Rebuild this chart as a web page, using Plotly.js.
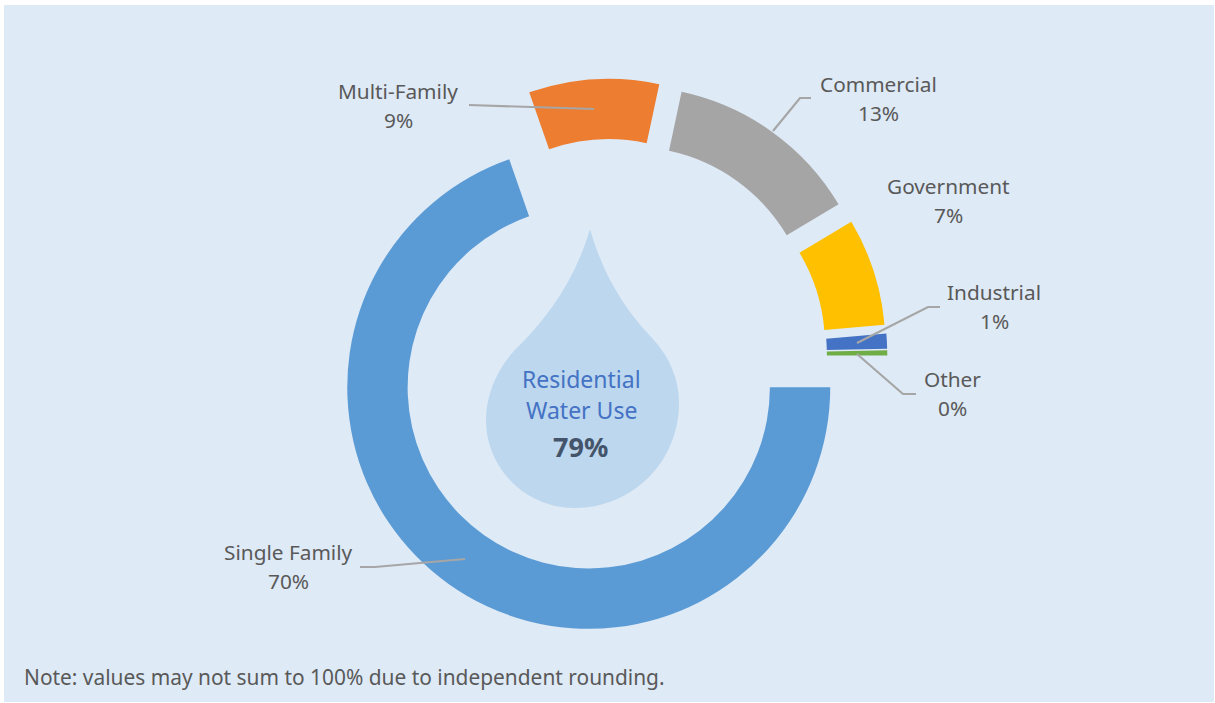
<!DOCTYPE html>
<html>
<head>
<meta charset="utf-8">
<script src="https://cdn.plot.ly/plotly-3.0.1.min.js"></script>
<style>html,body{margin:0;padding:0;background:#fff}#chart{width:1215px;height:703px}</style>
</head>
<body>
<div id="chart"></div>
<script>
var categories = ["Single Family", "Multi-Family", "Commercial", "Government", "Industrial", "Other"];
var shares = [69.7, 8.7, 13.1, 7.2, 1.0, 0.36];
var shareLabels = ["70%", "9%", "13%", "7%", "1%", "0%"];
var sliceColors = ["#5B9BD5", "#ED7D31", "#A5A5A5", "#FFC000", "#4472C4", "#70AD47"];
var explode = [0.159, 0.148, 0.143, 0.143, 0.144, 0.144];
var labelX = [288, 398, 878, 948, 994, 952];
var labelNameY = [552, 91, 84, 186, 292, 379];
var labelValueY = [581, 120, 113, 215, 321, 408];

var W = 1215, H = 703;
var px = function (x) { return x / W; };
var py = function (y) { return 1 - y / H; };
var FONT = '"Noto Sans", "Open Sans", sans-serif';
var TEXT = "#595959";

var cx = 611, cy = 356, base = 279.9;

function path(cmds) {
  return cmds.map(function (c) {
    var s = c[0];
    for (var i = 1; i < c.length; i += 2) {
      s += (i > 1 ? " " : "") + px(c[i]) + "," + py(c[i + 1]);
    }
    return s;
  }).join(" ");
}

var leaderLines = [
  [[469, 105], [594, 109]],
  [[773, 131], [800, 98], [811, 98]],
  [[857, 343], [928, 307], [940, 307]],
  [[857, 354], [903, 394], [916, 394]],
  [[360, 567], [375, 567], [465, 559]]
];

var shapes = [
  { type: "rect", xref: "paper", yref: "paper", layer: "below",
    x0: px(4), x1: px(1214), y0: py(702), y1: py(5),
    fillcolor: "#DEEAF6", line: { width: 0 } },
  { type: "path", xref: "paper", yref: "paper", layer: "below",
    fillcolor: "#BDD7EE", line: { width: 0 },
    path: path([
      ["M", 590, 229],
      ["C", 603, 275, 625, 310, 652, 338],
      ["C", 670, 357, 679, 380, 679, 403],
      ["C", 679, 462, 632, 508, 575, 508],
      ["C", 525, 508, 486, 468, 486, 420],
      ["C", 486, 395, 497, 370, 513, 352],
      ["C", 548, 318, 575, 280, 590, 229]
    ]) + " Z" }
];
leaderLines.forEach(function (pts) {
  shapes.push({
    type: "path", xref: "paper", yref: "paper", layer: "above",
    line: { color: "#A6A6A6", width: 2.2 },
    path: pts.map(function (p, i) { return (i ? "L" : "M") + px(p[0]) + "," + py(p[1]); }).join(" ")
  });
});

function ann(text, x, y, size, color, bold, anchor) {
  return { text: bold ? "<b>" + text + "</b>" : text, xref: "paper", yref: "paper",
    x: px(x), y: py(y), xanchor: anchor || "center", yanchor: "middle", showarrow: false,
    font: { family: FONT, size: size, color: color } };
}
var annotations = [];
categories.forEach(function (c, i) {
  annotations.push(ann(c, labelX[i], labelNameY[i], 20.8, TEXT));
  annotations.push(ann(shareLabels[i], labelX[i], labelValueY[i], 20.8, TEXT));
});
annotations.push(ann("Residential", 581, 379, 23, "#4472C4"));
annotations.push(ann("Water Use", 581, 410, 23, "#4472C4"));
annotations.push(ann("79%", 580, 446, 27, "#44546A", true));
annotations.push(ann("Note: values may not sum to 100% due to independent rounding.", 22, 677, 20.9, TEXT, false, "left"));

var trace = {
  type: "pie",
  labels: categories,
  values: shares,
  sort: false,
  direction: "clockwise",
  rotation: 90,
  hole: 0.75,
  pull: explode,
  textinfo: "none",
  hoverinfo: "label+percent",
  marker: { colors: sliceColors, line: { width: 0 } },
  domain: { x: [px(cx - base), px(cx + base)], y: [py(cy + base), py(cy - base)] },
  showlegend: false
};

Plotly.newPlot("chart", [trace], {
  width: W, height: H,
  margin: { l: 0, r: 0, t: 0, b: 0 },
  paper_bgcolor: "#FFFFFF",
  showlegend: false,
  shapes: shapes,
  annotations: annotations
}, { displayModeBar: false, staticPlot: true });
</script>
</body>
</html>
